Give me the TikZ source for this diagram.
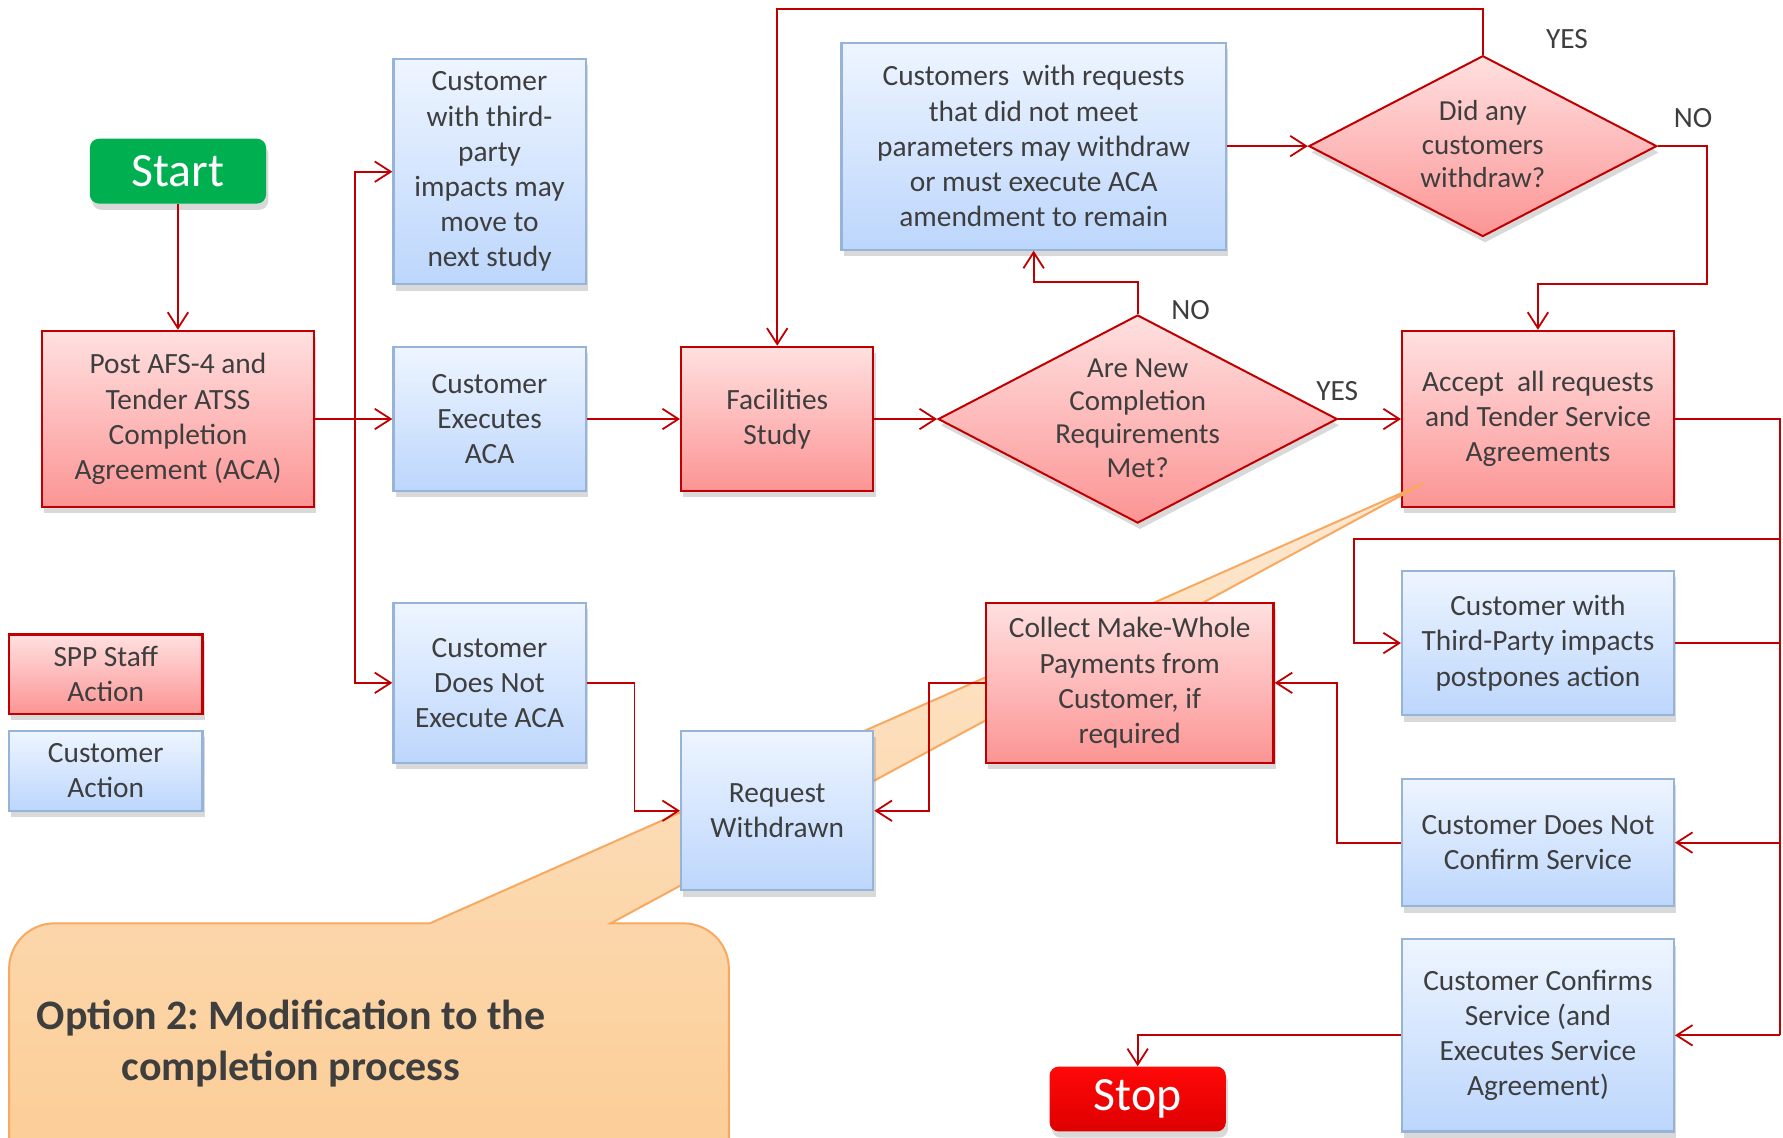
\documentclass[tikz,border=0pt]{standalone}
\usepackage{fontspec}
\setmainfont{Carlito}
\usepackage{tikz}
\usetikzlibrary{positioning,arrows.meta,shapes.geometric,shadows}

\definecolor{sppred}{RGB}{192,0,0}
\definecolor{redtop}{RGB}{255,224,224}
\definecolor{redbot}{RGB}{252,148,148}
\definecolor{bluetop}{RGB}{238,245,255}
\definecolor{bluebot}{RGB}{188,214,252}
\definecolor{blueline}{RGB}{150,180,216}
\definecolor{txtgray}{RGB}{62,62,62}
\definecolor{startgreen}{RGB}{0,176,80}
\definecolor{stoptop}{RGB}{255,8,8}
\definecolor{stopbot}{RGB}{222,0,0}
\definecolor{calltop}{RGB}{253,232,208}
\definecolor{callbot}{RGB}{252,204,148}
\definecolor{callline}{RGB}{249,168,96}

% lines of a decision, kept out of the diamond's size
\newcommand{\dlines}[1]{\makebox[0pt]{\smash{\raisebox{-0.3em}{\begin{tabular}{@{}c@{}}#1\end{tabular}}}}}

\begin{document}
\frenchspacing
\begin{tikzpicture}[x=0.2mm, y=-0.2mm,
    boxshadow/.style={drop shadow={shadow xshift=0.4mm, shadow yshift=-1.1mm, opacity=0.3}},
    staffbox/.style={rectangle, draw=sppred, line width=1.1pt, top color=redtop, bottom color=redbot,
      boxshadow, text=txtgray, align=center, inner sep=2pt, font=\fontsize{14.7}{17.6}\selectfont},
    custbox/.style={rectangle, draw=blueline, line width=1.1pt, top color=bluetop, bottom color=bluebot,
      boxshadow, text=txtgray, align=center, inner sep=2pt, font=\fontsize{14.7}{17.6}\selectfont},
    decision/.style={diamond, draw=sppred, line width=1pt, top color=redtop, bottom color=redbot,
      boxshadow, text=txtgray, inner sep=0pt, font=\fontsize{14.5}{16.7}\selectfont},
    terminal/.style={rectangle, rounded corners=1.6mm, text=white, boxshadow,
      minimum width=31mm, minimum height=11.4mm, font=\fontsize{23.9}{28}\selectfont},
    answer/.style={text=txtgray, font=\fontsize{14.7}{17}\selectfont},
    flow/.style={draw=sppred, line width=0.9pt, -{Straight Barb[length=2.8mm, width=3.6mm]}},
    link/.style={draw=sppred, line width=0.9pt},
    callout/.style={draw=callline, line width=1pt, top color=calltop, bottom color=callbot}
  ]
  \clip (0,0) rectangle (1568,1000);

  % Start and the first steps
  \node[terminal, fill=startgreen] (start) at (156.5,150.5) {Start};
  \node[staffbox, minimum width=47.8mm, minimum height=31mm] (post) at (156.5,368.5)
    {Post AFS-4 and\\Tender ATSS\\Completion\\Agreement (ACA)};
  \node[custbox, minimum width=33.8mm, minimum height=39.6mm] (third) at (430.5,151)
    {Customer\\with third-\\party\\impacts may\\move to\\next study};
  \node[custbox, minimum width=33.8mm, minimum height=25.4mm] (exec) at (430.5,368.5)
    {Customer\\Executes\\ACA};
  \node[custbox, minimum width=33.8mm, minimum height=28.2mm] (noexec) at (430.5,600.5)
    {Customer\\Does Not\\Execute ACA};

  % Legend
  \node[staffbox, minimum width=34mm, minimum height=14mm] (legstaff) at (93,593) {SPP Staff\\Action};
  \node[custbox, minimum width=34mm, minimum height=14mm] (legcust) at (93,678) {Customer\\Action};

  % Study and decisions
  \node[staffbox, minimum width=33.8mm, minimum height=25.4mm] (fac) at (683.5,368.5)
    {Facilities\\Study};
  \node[custbox, minimum width=67.6mm, minimum height=36.4mm] (custreq) at (909,128.5)
    {Customers\ \ with requests\\that did not meet\\parameters may withdraw\\or must execute ACA\\amendment to remain};
  \node[decision, minimum width=61.2mm, minimum height=31.8mm] (didany) at (1304,128.5)
    {\dlines{Did any\\customers\\withdraw?}};
  \node[decision, minimum width=70.2mm, minimum height=36.6mm] (arecomp) at (1000.5,368.5)
    {\dlines{Are New\\Completion\\Requirements\\Met?}};
  \node[staffbox, minimum width=47.8mm, minimum height=31mm] (accept) at (1352.5,368.5)
    {Accept\ \ all requests\\and Tender Service\\Agreements};

  % Callout (over Accept, under the rest)
  \draw[callout] (8,1040) -- (8,852) to[out=90,in=180] (48,812) -- (378,812) -- (1252,425)
    -- (537,812) -- (601,812) to[out=0,in=90] (641,852) -- (641,1040) -- cycle;
  \node[text=txtgray, align=center, font=\bfseries\fontsize{21}{25.5}\selectfont] (option) at (256,918)
    {Option 2: Modification to the\\completion process};

  % Customer responses
  \node[custbox, minimum width=47.8mm, minimum height=25.4mm] (thirdp) at (1352.5,565.5)
    {Customer with\\Third-Party impacts\\postpones action};
  \node[custbox, minimum width=47.8mm, minimum height=22.4mm] (notconf) at (1352.5,741)
    {Customer Does Not\\Confirm Service};
  \node[custbox, minimum width=47.8mm, minimum height=33.8mm] (confirm) at (1352.5,910.5)
    {Customer Confirms\\Service (and\\Executes Service\\Agreement)};
  \node[staffbox, minimum width=50.6mm, minimum height=28.2mm] (collect) at (993.5,600.5)
    {Collect Make-Whole\\Payments from\\Customer, if\\required};
  \node[custbox, minimum width=33.8mm, minimum height=28mm] (reqw) at (683.5,713)
    {Request\\Withdrawn};
  \node[terminal, top color=stoptop, bottom color=stopbot] (stop) at (1000.5,966.5) {Stop};

  % Answers
  \node[answer] (yesnew) at (1176,344) {YES};
  \node[answer] (nonew) at (1047,273) {NO};
  \node[answer] (yesdid) at (1378,34) {YES};
  \node[answer] (nodid) at (1489,104) {NO};

  % Connectors
  \coordinate (split) at (312,368.5);
  \coordinate (railtop) at (1565,474);
  \coordinate (loopin) at (1191,474);
  \coordinate (railbot) at (1565,910.5);

  \draw[flow] (start) -- (post);
  \draw[link] (post.east) -- (split);
  \draw[flow] (split) |- (third.west);
  \draw[flow] (split) -- (exec.west);
  \draw[flow] (split) |- (noexec.west);
  \draw[flow] (exec) -- (fac);
  \draw[flow] (fac) -- (arecomp);
  \draw[flow] (arecomp) -- (accept);
  \draw[flow] (arecomp.north) -- ++(0,-28) -| (custreq.south);
  \draw[flow] (custreq) -- (didany);
  \draw[flow] (didany.north) -- ++(0,-40) -| (fac.north);
  \draw[flow] (didany.east) -- ++(43,0) -- ++(0,121) -| (accept.north);
  \draw[link] (accept.east) -| (railbot);
  \draw[flow] (railtop) -- (loopin) |- (thirdp.west);
  \draw[link] (thirdp.east) -- (thirdp.east -| railbot);
  \draw[flow] (notconf.east -| railbot) -- (notconf.east);
  \draw[flow] (railbot) -- (confirm.east);
  \draw[flow] (notconf.west) -- ++(-56,0) |- (collect.east);
  \draw[flow] (collect.west) -- ++(-49,0) |- (reqw.east);
  \draw[flow] (noexec.east) -- ++(42,0) |- (reqw.west);
  \draw[flow] (confirm.west) -| (stop.north);
\end{tikzpicture}
\end{document}
